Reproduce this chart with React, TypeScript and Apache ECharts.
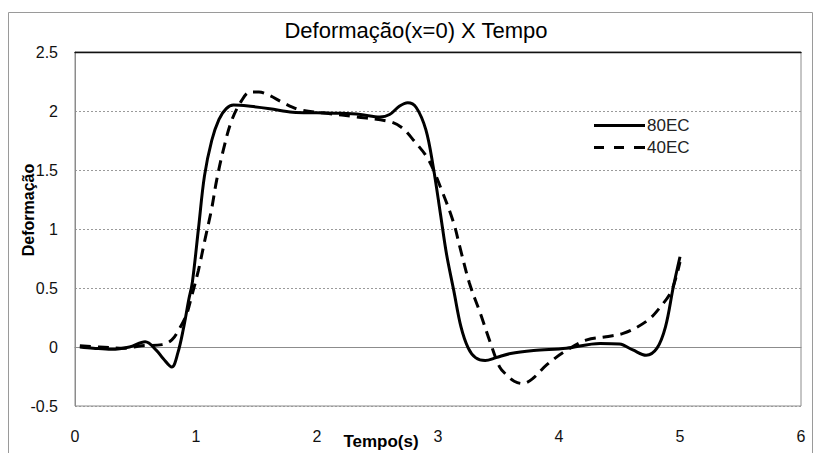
import React, { useEffect, useRef } from "react";
import * as echarts from "echarts";

const titleText = "Deformação(x=0) X Tempo";
const xAxisName = "Tempo(s)";
const yAxisName = "Deformação";
const seriesNames = ["80EC", "40EC"];

const t80 = [0.04, 0.15, 0.3, 0.45, 0.58, 0.675, 0.73, 0.8, 0.85, 0.895, 0.94, 0.97, 1.02, 1.07, 1.13, 1.19, 1.25, 1.31, 1.45, 1.61, 1.8, 2.0, 2.2, 2.36, 2.52, 2.6, 2.68, 2.75, 2.82, 2.9, 2.96, 3.02, 3.07, 3.13, 3.19, 3.25, 3.31, 3.39, 3.48, 3.6, 3.79, 4.06, 4.34, 4.5, 4.61, 4.72, 4.81, 4.88, 4.945, 5.0];
const v80 = [0.0, -0.01, -0.02, 0.0, 0.045, -0.03, -0.1, -0.17, -0.05, 0.15, 0.4, 0.55, 1.0, 1.45, 1.75, 1.93, 2.02, 2.05, 2.04, 2.02, 1.99, 1.985, 1.98, 1.97, 1.95, 1.97, 2.04, 2.07, 2.03, 1.84, 1.53, 1.13, 0.79, 0.48, 0.17, -0.01, -0.09, -0.115, -0.09, -0.055, -0.03, -0.01, 0.03, 0.025, -0.025, -0.07, -0.01, 0.17, 0.51, 0.765];

const t40 = [0.04, 0.2, 0.4, 0.55, 0.72, 0.8, 0.86, 0.92, 0.964, 1.02, 1.074, 1.13, 1.17, 1.226, 1.295, 1.378, 1.446, 1.52, 1.61, 1.72, 1.86, 2.08, 2.33, 2.6, 2.7, 2.8, 2.92, 3.03, 3.13, 3.18, 3.26, 3.35, 3.43, 3.51, 3.57, 3.63, 3.7, 3.78, 3.9, 4.06, 4.23, 4.39, 4.53, 4.64, 4.75, 4.83, 4.92, 4.97, 5.0];
const v40 = [0.01, 0.0, -0.01, 0.01, 0.02, 0.06, 0.15, 0.27, 0.43, 0.65, 0.91, 1.175, 1.41, 1.67, 1.92, 2.09, 2.16, 2.16, 2.13, 2.07, 2.01, 1.98, 1.95, 1.91, 1.86, 1.75, 1.59, 1.33, 1.05, 0.85, 0.54, 0.285, 0.045, -0.17, -0.24, -0.29, -0.31, -0.27, -0.15, -0.03, 0.06, 0.087, 0.115, 0.165, 0.24, 0.33, 0.455, 0.6, 0.72];

const FONT = "'Liberation Sans', Arial, sans-serif";
const solidIcon = "path://M0,0H51V3H0Z";
const dashIcon = "path://M0,0H10V3H0Z M20,0H30V3H20Z M40,0H51V3H40Z";

export default function App() {
  const ref = useRef<HTMLDivElement>(null);
  useEffect(() => {
    if (!ref.current) return;
    const chart = echarts.init(ref.current, null, { renderer: "svg" });
    const pairs = (ts: number[], vs: number[]) => ts.map((t, i) => [t, vs[i]]);
    chart.setOption({
      animation: false,
      backgroundColor: "#ffffff",
      textStyle: { fontFamily: FONT },
      grid: {
        left: 75,
        top: 52,
        right: 19,
        bottom: 47,
        show: true,
        borderColor: "#8c8c8c",
        borderWidth: 1,
      },
      legend: {
        orient: "vertical",
        left: 589,
        top: 112,
        itemWidth: 51,
        itemHeight: 3,
        itemGap: 5,
        textStyle: { fontFamily: FONT, fontSize: 17, color: "#222", padding: [0, 0, 0, -3] },
        data: [
          { name: seriesNames[0], icon: solidIcon, itemStyle: { color: "#000" } },
          { name: seriesNames[1], icon: dashIcon, itemStyle: { color: "#000" } },
        ],
      },
      xAxis: [
        {
          type: "value",
          min: 0,
          max: 6,
          interval: 1,
          axisLine: { show: true, lineStyle: { color: "#8c8c8c" } },
          axisTick: { show: false },
          splitLine: { show: false },
          axisLabel: { fontFamily: FONT, fontSize: 16, color: "#111", margin: 22 },
        },
        {
          type: "value",
          position: "top",
          min: 0,
          max: 6,
          interval: 1,
          axisLine: { show: true, lineStyle: { color: "#111", width: 1.3 } },
          axisTick: { show: false },
          axisLabel: { show: false },
          splitLine: { show: false },
        },
      ],
      yAxis: {
        type: "value",
        min: -0.5,
        max: 2.5,
        interval: 0.5,
        axisLine: { show: true, lineStyle: { color: "#8c8c8c" } },
        axisTick: { show: false },
        splitLine: { show: true, lineStyle: { color: "#9a9a9a", type: [2, 2], width: 1 } },
        axisLabel: { fontFamily: FONT, fontSize: 16, color: "#111", margin: 17 },
      },
      graphic: [
        {
          type: "rect",
          silent: true,
          shape: { x: 8.5, y: 12.5, width: 804, height: 460 },
          style: { fill: "none", stroke: "#9a9a9a", lineWidth: 1 },
        },
        {
          type: "text",
          style: {
            text: titleText,
            x: 416,
            y: 30,
            align: "center",
            verticalAlign: "middle",
            font: `22px ${FONT}`,
            fill: "#000",
          },
        },
        {
          type: "text",
          x: 28,
          y: 210,
          rotation: Math.PI / 2,
          style: {
            text: yAxisName,
            x: 0,
            y: 0,
            align: "center",
            verticalAlign: "middle",
            font: `bold 16px ${FONT}`,
            fill: "#000",
          },
        },
        {
          type: "text",
          style: {
            text: xAxisName,
            x: 381,
            y: 441,
            align: "center",
            verticalAlign: "middle",
            font: `bold 17px ${FONT}`,
            fill: "#000",
          },
        },
      ],
      series: [
        {
          name: seriesNames[0],
          type: "line",
          data: pairs(t80, v80),
          smooth: 0.35,
          symbol: "none",
          lineStyle: { color: "#000", width: 3, type: "solid" },
          itemStyle: { color: "#000" },
          z: 3,
        },
        {
          name: seriesNames[1],
          type: "line",
          data: pairs(t40, v40),
          smooth: 0.35,
          symbol: "none",
          lineStyle: { color: "#000", width: 3, type: [11, 7] },
          itemStyle: { color: "#000" },
          z: 2,
        },
      ],
    });
    return () => chart.dispose();
  }, []);
  return (
    <div
      ref={ref}
      style={{ position: "absolute", left: 0, top: 0, width: 820, height: 453 }}
    />
  );
}
